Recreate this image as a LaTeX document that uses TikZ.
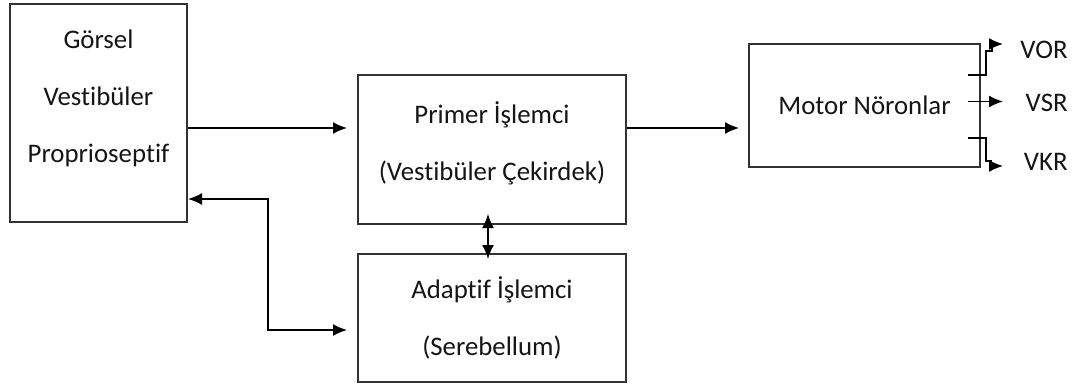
\documentclass[tikz,border=0pt]{standalone}
\usepackage{fontspec}
\setmainfont{Carlito}[Ligatures=NoCommon]
\usepackage{tikz}
\usetikzlibrary{arrows.meta,calc}
\definecolor{boxline}{RGB}{50,50,50}
\definecolor{labeltext}{RGB}{20,20,25}
\tikzset{
  block/.style={
    draw=boxline,line width=1pt,rectangle,align=center,
    text=labeltext,font=\fontsize{13.4}{28.5}\selectfont,
  },
  conn/.style={line width=0.8pt,-{Latex[length=7pt,width=6pt]}},
  bconn/.style={line width=0.8pt,{Latex[length=7pt,width=6pt]}-{Latex[length=7pt,width=6pt]}},
  outlabel/.style={text=labeltext,font=\fontsize{13.4}{15}\selectfont,anchor=east,inner sep=0pt},
}

\begin{document}
\begin{tikzpicture}[x=0.5pt,y=-0.5pt]
    \useasboundingbox (0,0) rectangle (1080,385);
    % blocks
    \node[block,minimum width=88.5pt,minimum height=109pt,text depth=17pt] (sens) at (98.5,113)
        {Görsel\\Vestibüler\\Proprioseptif};
    \node[block,minimum width=134pt,minimum height=74.5pt,text depth=8pt] (primer) at (492,149.5)
        {Primer İşlemci\\(Vestibüler Çekirdek)};
    \node[block,minimum width=134pt,minimum height=64pt] (adapt) at (492,318)
        {Adaptif İşlemci\\(Serebellum)};
    \node[block,minimum width=115.5pt,minimum height=61.5pt] (motor) at (864.5,105.5)
        {Motor Nöronlar};
    % output labels
    \node[outlabel] (vor) at (1068,50) {VOR};
    \node[outlabel] (vsr) at (1068,103) {VSR};
    \node[outlabel] (vkr) at (1068,162) {VKR};
    % helper points
    \coordinate (row) at (0,128);
    \coordinate (fbtop) at (268,199);
    \coordinate (fbbot) at (268,330);
    \coordinate (vor-in) at (968,75);
    \coordinate (vsr-in) at (968,101.5);
    \coordinate (vkr-in) at (968,138);
    % connections
    \draw[conn,shorten >=5pt] (sens.east |- row) -- (primer.west |- row);
    \draw[conn,shorten >=4.5pt] (primer.east |- row) -- (motor.west |- row);
    \draw[bconn,shorten <=-5.5pt,shorten >=-3pt]
        ([xshift=-2pt]primer.south) -- ([xshift=-2pt]adapt.north);
    \draw[bconn,shorten >=5pt] (sens.east |- fbtop) -- (fbtop) -- (fbbot) -- (adapt.west |- fbbot);
    % motor outputs
    \draw[conn] (vor-in) -- ++(18,0) -- ++(0,-24) -- ++(6,0) -- ++(0,-7) -- ++(11,0);
    \draw[conn] (vsr-in) -- ++(35,0);
    \draw[conn] (vkr-in) -- ++(18,0) -- ++(0,23) -- ++(5,0) -- ++(0,5) -- ++(12,0);
\end{tikzpicture}
\end{document}
